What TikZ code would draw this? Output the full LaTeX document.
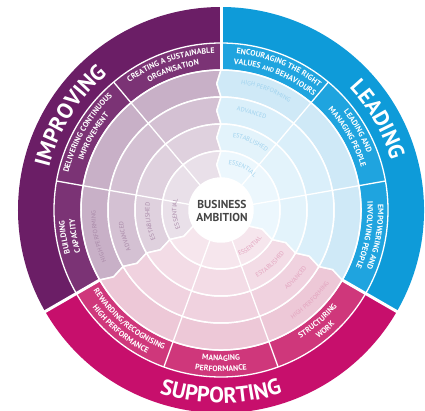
\documentclass[tikz,border=0pt]{standalone}
\usepackage{fontspec}
\newfontfamily\pts{PT Sans}
\usetikzlibrary{decorations.text}
% Improving
\definecolor{impO}{HTML}{6B1E66}
\definecolor{impL}{HTML}{7B3375}
\definecolor{impHP}{HTML}{C8B0C7}
\definecolor{impAD}{HTML}{D4C1D3}
\definecolor{impES}{HTML}{DFD1DE}
\definecolor{impEN}{HTML}{E9E0E9}
\definecolor{impT}{HTML}{A98AA8}
% Leading
\definecolor{leaO}{HTML}{0E9BD9}
\definecolor{leaL}{HTML}{1FA4DF}
\definecolor{leaHP}{HTML}{CFE9F7}
\definecolor{leaAD}{HTML}{DAEFFA}
\definecolor{leaES}{HTML}{E3F3FB}
\definecolor{leaEN}{HTML}{ECF7FD}
\definecolor{leaT}{HTML}{9FD2EE}
% Supporting
\definecolor{supO}{HTML}{C70F6C}
\definecolor{supL}{HTML}{CF377B}
\definecolor{supHP}{HTML}{EDC8D7}
\definecolor{supAD}{HTML}{F0D2DF}
\definecolor{supES}{HTML}{F3DCE6}
\definecolor{supEN}{HTML}{F6E6ED}
\definecolor{supT}{HTML}{E2A3BE}
\definecolor{busgray}{HTML}{454545}
\newcommand\fmain{\pts\bfseries\fontsize{22}{22}\selectfont}
\newcommand\flab{\pts\bfseries\fontsize{7.9}{9}\selectfont}
\newcommand\flabs{\pts\bfseries\fontsize{6.3}{7}\selectfont}
\newcommand\flev{\pts\fontsize{6.2}{7}\selectfont}
\newcommand\annsec[5]{\fill[#1] (#2:#5) arc[start angle=#2, end angle=#3, radius=#5] -- (#3:#4) arc[start angle=#3, end angle=#2, radius=#4] -- cycle;}
\newcommand\chev[5]{%
  \pgfmathsetmacro\chevrm{(#4+#5)/2}%
  \pgfmathsetmacro\chevd{4.2/\chevrm*57.2958}%
  \filldraw[fill=#1, draw=white, line width=1.5pt] (#2:#5) arc[start angle=#2, end angle=#3, radius=#5] -- ({#3+\chevd}:\chevrm) -- (#3:#4) arc[start angle=#3, end angle=#2, radius=#4] -- ({#2+\chevd}:\chevrm) -- cycle;}
\newcommand\arctext[6]{\path[decorate, decoration={text along path, text color=#4, text align=#5, text={#6}}] (#2:#1) arc[start angle=#2, end angle=#3, radius=#1];}
\begin{document}
\begin{tikzpicture}[x=1pt,y=1pt]
\useasboundingbox (-221,-200) rectangle (204,210);
\clip (-221,-200) rectangle (204,210);
\fill[white] (-221,-200) rectangle (204,210);
% outer bands
\annsec{impO}{90}{210}{167}{203}
\annsec{supO}{210}{330}{167}{203}
\annsec{leaO}{-30}{90}{167}{203}
% label bands
\annsec{impL}{90}{210}{140}{167}
\annsec{supL}{210}{330}{140}{167}
\annsec{leaL}{-30}{90}{140}{167}
% level rings (chevrons)
\chev{impHP}{90}{210}{113}{140}
\chev{impAD}{90}{210}{86}{113}
\chev{impES}{90}{210}{59}{86}
\chev{impEN}{90}{210}{32}{59}
\chev{supHP}{210}{330}{113}{140}
\chev{supAD}{210}{330}{86}{113}
\chev{supES}{210}{330}{59}{86}
\chev{supEN}{210}{330}{32}{59}
\chev{leaHP}{-30}{90}{113}{140}
\chev{leaAD}{-30}{90}{86}{113}
\chev{leaES}{-30}{90}{59}{86}
\chev{leaEN}{-30}{90}{32}{59}
% white separators
\foreach \a in {130,170,50,10,250,290} \draw[white, line width=1.3pt] (\a:31) -- (\a:167);
\draw[white, line width=1.3pt] (0,0) circle[radius=167];
\draw[white, line width=1.3pt] (0,0) circle[radius=140];
\foreach \a in {90,210,330} \draw[white, line width=3pt] (\a:139) -- (\a:215);
\fill[white] (0,0) circle[radius=32];
% main labels
\arctext{177}{177}{119}{white}{center}{|\fmain|IMPROVING}
\arctext{177}{58}{2}{white}{center}{|\fmain|LEADING}
\arctext{193}{242}{298}{white}{center}{|\fmain|SUPPORTING}
% label band texts
\arctext{157}{150}{68}{white}{center}{|\flab|CREATING A SUSTAINABLE}
\arctext{146.5}{150}{68}{white}{center}{|\flab|ORGANISATION}
\arctext{157}{190}{110}{white}{center}{|\flab|DELIVERING CONTINUOUS}
\arctext{146.5}{190}{110}{white}{center}{|\flab|IMPROVEMENT}
\arctext{157}{230}{150}{white}{center}{|\flab|BUILDING}
\arctext{146.5}{230}{150}{white}{center}{|\flab|CAPACITY}
\arctext{157}{108}{28}{white}{center}{|\flab|ENCOURAGING THE RIGHT}
\arctext{146.5}{108}{28}{white}{center}{|\flab|VALUES |\flabs|AND |\flab|BEHAVIOURS}
\arctext{157}{70}{-10}{white}{center}{|\flab|LEADING AND}
\arctext{146.5}{70}{-10}{white}{center}{|\flab|MANAGING PEOPLE}
\arctext{157}{30}{-50}{white}{center}{|\flab|EMPOWERING AND}
\arctext{146.5}{30}{-50}{white}{center}{|\flab|INVOLVING PEOPLE}
\arctext{151}{271}{351}{white}{center}{|\flab|STRUCTURING}
\arctext{161.5}{271}{351}{white}{center}{|\flab|WORK}
\arctext{151}{230}{310}{white}{center}{|\flab|MANAGING}
\arctext{161.5}{230}{310}{white}{center}{|\flab|PERFORMANCE}
\arctext{151}{190}{270}{white}{center}{|\flab|REWARDING/RECOGNISING}
\arctext{161.5}{190}{270}{white}{center}{|\flab|HIGH PERFORMANCE}
% level labels
\arctext{127.5}{81}{0}{leaT}{left}{|\flev|HIGH PERFORMING}
\arctext{100.5}{81}{0}{leaT}{left}{|\flev|ADVANCED}
\arctext{73.5}{81}{0}{leaT}{left}{|\flev|ESTABLISHED}
\arctext{46.5}{81}{0}{leaT}{left}{|\flev|ESSENTIAL}
\arctext{125.5}{204}{120}{impT}{left}{|\flev|HIGH PERFORMING}
\arctext{98.5}{204}{120}{impT}{left}{|\flev|ADVANCED}
\arctext{71.5}{204}{120}{impT}{left}{|\flev|ESTABLISHED}
\arctext{44.5}{204}{120}{impT}{left}{|\flev|ESSENTIAL}
\arctext{130.5}{230}{326}{supT}{right}{|\flev|HIGH PERFORMING}
\arctext{103.5}{230}{326}{supT}{right}{|\flev|ADVANCED}
\arctext{76.5}{230}{326}{supT}{right}{|\flev|ESTABLISHED}
\arctext{49.5}{230}{326}{supT}{right}{|\flev|ESSENTIAL}
% centre
\node[font=\pts\bfseries\fontsize{11.5}{12.5}\selectfont, text=busgray, align=center] (centre) at (1,-1) {BUSINESS\\AMBITION};
\end{tikzpicture}
\end{document}
